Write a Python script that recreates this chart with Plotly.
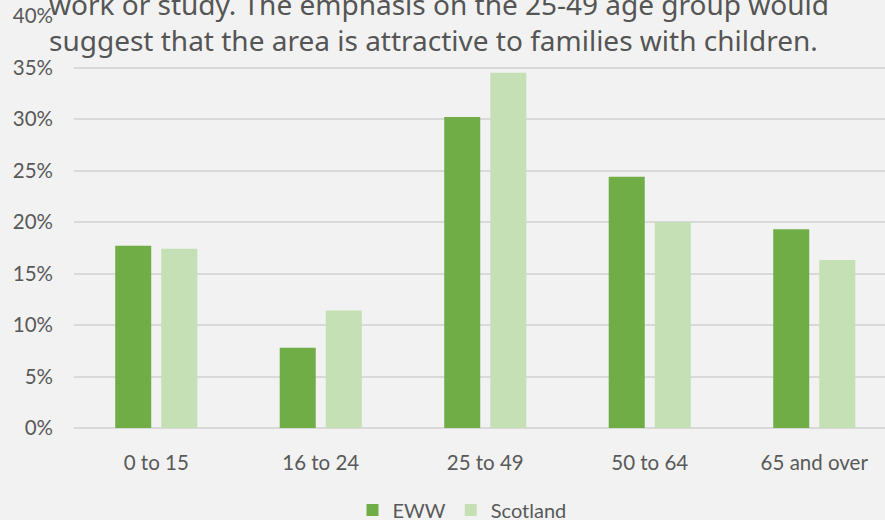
import plotly.graph_objects as go

categories = ["0 to 15", "16 to 24", "25 to 49", "50 to 64", "65 and over"]
eww = [0.177, 0.078, 0.302, 0.244, 0.193]
scotland = [0.174, 0.114, 0.345, 0.200, 0.163]
series_names = ["EWW", "Scotland"]
colors = ["#70ad47", "#c5e0b4"]
text_lines = [
    "work or study. The emphasis on the 25-49 age group would",
    "suggest that the area is attractive to families with children.",
]

W, H = 885, 520
ml, mr, mt, mb = 74, 0, 16, 92
pw, ph = W - ml - mr, H - mt - mb

bar_w = 0.219
gap = 0.061

fig = go.Figure()
fig.add_trace(go.Bar(x=list(range(len(categories))), y=eww, name=series_names[0],
                     marker=dict(color=colors[0], line=dict(width=0)),
                     width=bar_w, offset=-(bar_w + gap / 2)))
fig.add_trace(go.Bar(x=list(range(len(categories))), y=scotland, name=series_names[1],
                     marker=dict(color=colors[1], line=dict(width=0)),
                     width=bar_w, offset=gap / 2))

def px_x(p):
    return (p - ml) / pw

def px_y(p):
    return (H - mb - p) / ph

tick_font = dict(family="Lato, Carlito, Open Sans, sans-serif", size=20.5, color="#595959")
legend_font = dict(family="Lato, Carlito, Open Sans, sans-serif", size=20, color="#595959")

fig.update_layout(
    width=W, height=H,
    margin=dict(l=ml, r=mr, t=mt, b=mb, autoexpand=False),
    paper_bgcolor="#f2f2f2", plot_bgcolor="#f2f2f2",
    barmode="group",
    showlegend=True,
    legend=dict(orientation="h", x=px_x(462), xanchor="center", y=px_y(510), yanchor="middle",
                font=legend_font, traceorder="normal", bgcolor="rgba(0,0,0,0)",
                itemsizing="constant", borderwidth=0),
    xaxis=dict(range=[-0.5, 4.43], tickmode="array", tickvals=list(range(len(categories))),
               ticktext=categories, showgrid=False, zeroline=False, showline=False,
               tickfont=tick_font, ticks="", ticklabelstandoff=20, fixedrange=True),
    yaxis=dict(range=[0, 0.40], dtick=0.05, tickformat=".0%", showgrid=True,
               gridcolor="#d9d9d9", gridwidth=1.5, zeroline=True, zerolinecolor="#d9d9d9",
               zerolinewidth=1.5, showline=False, tickfont=tick_font, ticks="",
               ticklabelstandoff=20, fixedrange=True),
)

text_font = dict(family="Noto Sans, sans-serif", size=28, color="#555555")
for i, line in enumerate(text_lines):
    fig.add_annotation(text=line, xref="paper", yref="paper", x=px_x(47), xanchor="left",
                       y=px_y(4 + 36 * i), yanchor="middle", showarrow=False, font=text_font)

fig.write_html("out.html")
